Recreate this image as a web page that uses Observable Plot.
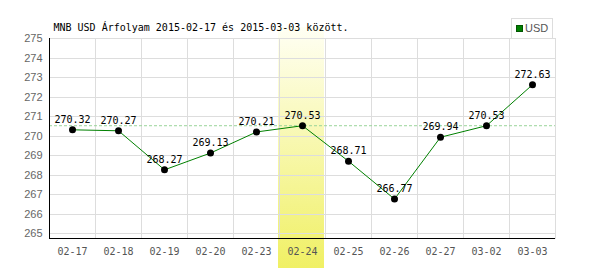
<!DOCTYPE html>
<html>
<head>
<meta charset="utf-8">
<script src="https://cdn.jsdelivr.net/npm/d3@7"></script>
<script src="https://cdn.jsdelivr.net/npm/@observablehq/plot@0.6"></script>
<style>
  html, body { margin: 0; padding: 0; background: #fff; }
  #wrap { position: relative; width: 600px; height: 270px; }
  #legend { position: absolute; left: 511px; top: 18px; width: 40px; height: 19px; border: 1px solid #ddd; border-bottom: none; background: #fff;
    font: 11px "Liberation Sans Narrow", "Liberation Sans", Arial, sans-serif; color: #555; }
  #legend .sw { position: absolute; left: 4px; top: 6px; width: 5px; height: 5px; background: #008000; border: 1px solid #050; }
  #legend .lb { position: absolute; left: 13px; top: 3px; }
</style>
</head>
<body>
<div id="wrap"></div>
<script>
const dates = ["02-17","02-18","02-19","02-20","02-23","02-24","02-25","02-26","02-27","03-02","03-03"];
const rates = [270.32,270.27,268.27,269.13,270.21,270.53,268.71,266.77,269.94,270.53,272.63];
const yTicks = [265,266,267,268,269,270,271,272,273,274,275];
const yDomain = [264.75, 275];
const highlightDate = "02-24";
const refRate = 270.53;
const title = "MNB USD Árfolyam 2015-02-17 és 2015-03-03 között.";
const seriesName = "USD";

const data = dates.map((d, i) => ({date: d, rate: rates[i]}));
const mono = "'DejaVu Sans Mono', monospace";

function highlightMark(index, scales, values, dims) {
  const x = scales.x;
  const bw = x.bandwidth ? x.bandwidth() : (dims.width - dims.marginLeft - dims.marginRight) / dates.length;
  const g = d3.create("svg:g");
  const grad = g.append("defs").append("linearGradient").attr("id", "hl").attr("x1", 0).attr("y1", 0).attr("x2", 0).attr("y2", 1);
  grad.append("stop").attr("offset", "0%").attr("stop-color", "#fffff4");
  grad.append("stop").attr("offset", "100%").attr("stop-color", "#f0f064");
  g.append("rect")
    .attr("x", x(highlightDate) - 1)
    .attr("width", bw)
    .attr("y", dims.marginTop - 11)
    .attr("height", dims.height - dims.marginTop + 9)
    .attr("fill", "url(#hl)");
  return g.node();
}

function axisLines(index, scales, values, dims) {
  const g = d3.create("svg:g").attr("stroke", "black").attr("shape-rendering", "crispEdges");
  const l = dims.marginLeft, r = dims.width - dims.marginRight, t = dims.marginTop, b = dims.height - dims.marginBottom;
  g.append("line").attr("x1", l).attr("x2", l).attr("y1", t).attr("y2", b);
  g.append("line").attr("x1", l).attr("x2", r).attr("y1", b).attr("y2", b);
  return g.node();
}

const chart = Plot.plot({
  width: 600,
  height: 270,
  marginLeft: 49,
  marginRight: 45,
  marginTop: 38,
  marginBottom: 32,
  style: {background: "white"},
  x: {type: "band", domain: dates, padding: 0, label: null},
  y: {domain: yDomain, label: null},
  marks: [
    highlightMark,
    Plot.ruleY(yTicks, {stroke: "#ddd", shapeRendering: "crispEdges"}),
    Plot.barY(dates, {x: d => d, y1: yDomain[0], y2: yDomain[1], fill: "none", stroke: "#ddd", inset: 0, shapeRendering: "crispEdges"}),
    Plot.ruleY([refRate], {stroke: "#99d499", strokeDasharray: "3,2"}),
    axisLines,
    Plot.axisY(yTicks, {tickSize: 0, tickPadding: 7, fontSize: 11, fontFamily: "'Liberation Sans', Arial, sans-serif", fill: "#666", label: null}),
    Plot.axisX({tickSize: 0, tickPadding: 9, fontSize: 10, fontFamily: mono, fill: "#555", label: null}),
    Plot.line(data, {x: "date", y: "rate", stroke: "#008000", strokeWidth: 1}),
    Plot.dot(data, {x: "date", y: "rate", r: 3.5, fill: "black", stroke: "none"}),
    Plot.text(data, {x: "date", y: "rate", text: d => d.rate.toFixed(2), dy: -10, fontFamily: mono, fontSize: 10, fill: "black"}),
    Plot.text([title], {frameAnchor: "top-left", text: d => d, dx: 4, dy: -15, textAnchor: "start", fontFamily: mono, fontSize: 10, fill: "black"})
  ]
});
const wrap = document.getElementById("wrap");
wrap.appendChild(chart);
const legend = document.createElement("div");
legend.id = "legend";
legend.innerHTML = `<span class="sw"></span><span class="lb">${seriesName}</span>`;
wrap.appendChild(legend);
</script>
</body>
</html>
